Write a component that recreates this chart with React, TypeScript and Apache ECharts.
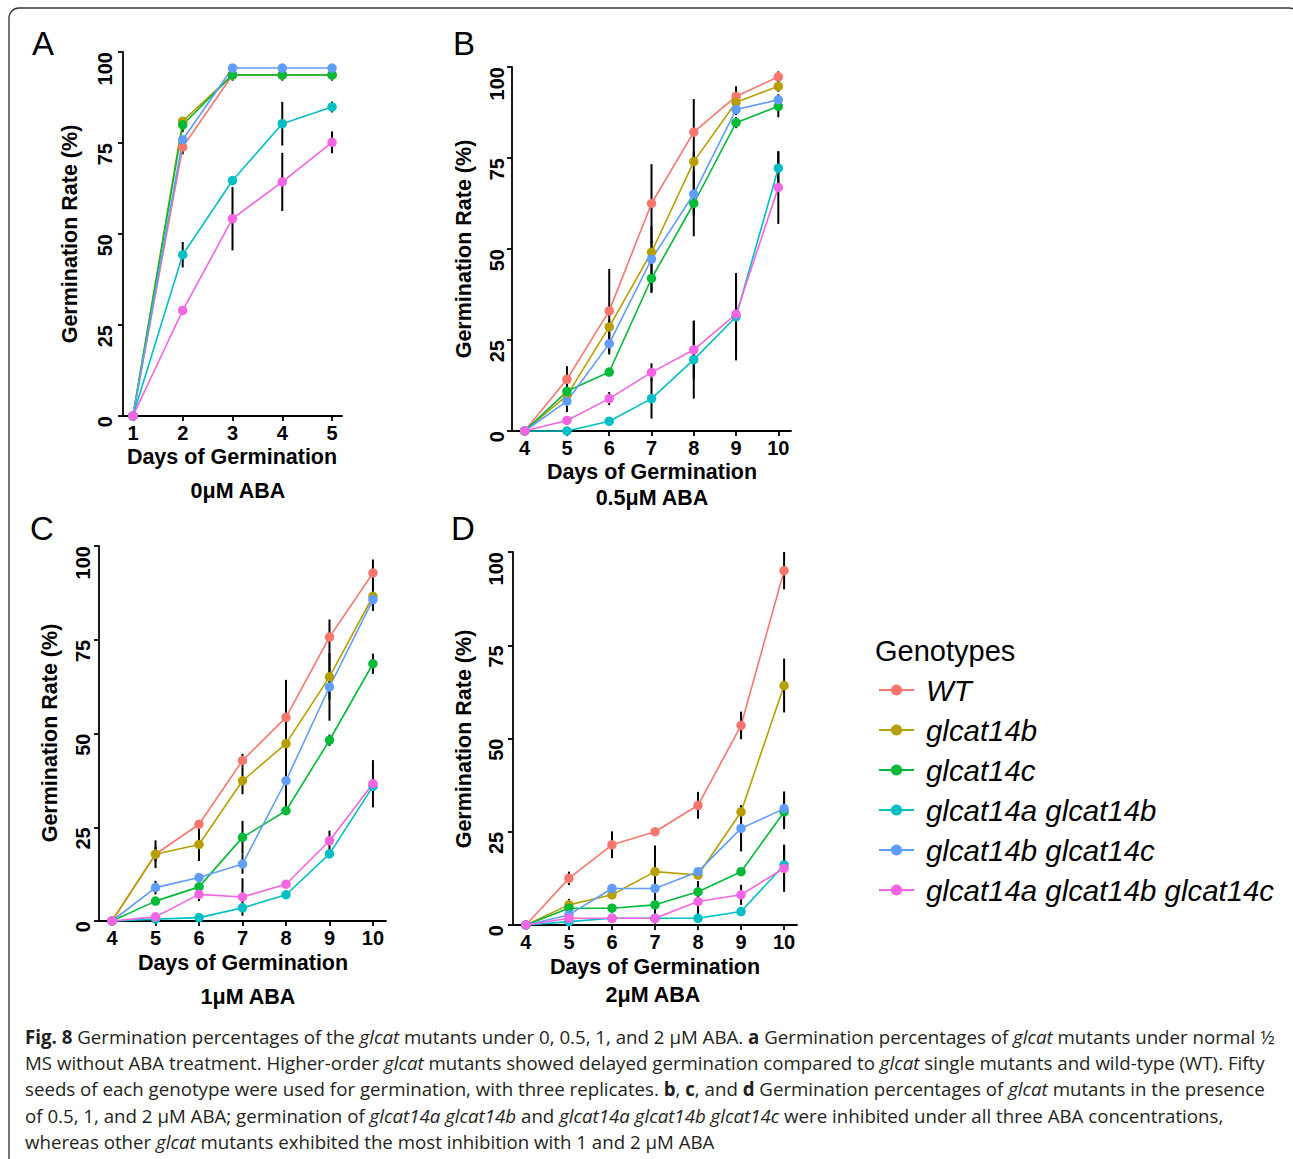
import React, { useEffect, useRef } from "react";
import * as echarts from "echarts";

// ---------- data ----------
const GENOTYPES = [
  "WT",
  "glcat14b",
  "glcat14c",
  "glcat14a glcat14b",
  "glcat14b glcat14c",
  "glcat14a glcat14b glcat14c",
];
const COLORS = ["#F8766D", "#B79F00", "#00BA38", "#00BFC4", "#619CFF", "#F564E3"];

const DAYS_A = [1, 2, 3, 4, 5];
const DAYS_ABA = [4, 5, 6, 7, 8, 9, 10];
const Y_TICKS_STEP = 25;

// Panel A: 0 µM ABA (means, then sd), one row per genotype
const meanA = [
  [0, 73.9, 93.7, 93.7, 93.7],
  [0, 81.0, 93.7, 93.7, 93.7],
  [0, 80.0, 93.7, 93.7, 93.7],
  [0, 44.3, 64.7, 80.3, 84.9],
  [0, 75.9, 95.6, 95.6, 95.6],
  [0, 29.0, 54.2, 64.3, 75.2],
];
const sdA = [
  [0, 2, 1.5, 1.5, 1.5],
  [0, 1, 0, 0, 0],
  [0, 2, 1.5, 1.5, 1.5],
  [0, 3.5, 0, 6, 1.5],
  [0, 0, 0, 0, 0],
  [0, 0, 8.7, 8, 3],
];

// Panel B: 0.5 µM ABA
const meanB = [
  [0, 14.2, 33.0, 62.5, 82.1, 91.9, 97.3],
  [0, 9.8, 28.6, 49.1, 74.0, 90.3, 94.7],
  [0, 10.9, 16.2, 41.9, 62.5, 84.7, 89.2],
  [0, 0, 2.7, 8.9, 19.6, 31.4, 72.2],
  [0, 8.2, 24.0, 47.2, 65.1, 88.3, 91.0],
  [0, 2.9, 8.9, 16.1, 22.3, 32.1, 66.9],
];
const sdB = [
  [0, 3.6, 11.5, 10.8, 9.1, 2.8, 1.5],
  [0, 2, 2, 3, 3, 1.5, 1.5],
  [0, 2, 1, 4, 9, 1.5, 3],
  [0, 0, 1, 5.5, 10.7, 12, 4.6],
  [0, 3, 3, 9, 6, 1.5, 1.5],
  [0, 1, 1.8, 2.5, 8, 11, 10],
];

// Panel C: 1 µM ABA
const meanC = [
  [0, 17.8, 25.8, 42.8, 54.3, 75.7, 92.8],
  [0, 17.8, 20.4, 37.4, 47.3, 65.1, 86.6],
  [0, 5.3, 9.1, 22.3, 29.4, 48.2, 68.6],
  [0, 0.5, 0.9, 3.5, 7.0, 17.9, 35.9],
  [0, 8.9, 11.6, 15.2, 37.4, 62.4, 85.7],
  [0, 1.1, 7.1, 6.4, 9.8, 21.4, 36.6],
];
const sdC = [
  [0, 3.7, 1, 1.8, 10, 4.7, 3.6],
  [0, 2, 4.4, 3.6, 12, 6, 3],
  [0, 1, 1, 4.4, 1, 1.5, 2.7],
  [0, 0, 0, 1, 0.5, 1, 2],
  [0, 1.8, 1, 2.6, 8, 9, 3],
  [0, 0.5, 1.8, 5, 1, 2.7, 6.3],
];

// Panel D: 2 µM ABA
const meanD = [
  [0, 12.5, 21.5, 25.0, 32.1, 53.5, 95.0],
  [0, 5.4, 8.1, 14.3, 13.4, 30.3, 64.2],
  [0, 4.5, 4.5, 5.4, 8.9, 14.3, 30.3],
  [0, 0.9, 1.8, 1.8, 1.8, 3.6, 16.1],
  [0, 2.7, 9.8, 9.8, 14.3, 25.9, 31.2],
  [0, 1.8, 1.8, 1.8, 6.3, 8.1, 15.2],
];
const sdD = [
  [0, 1.8, 3.6, 0.5, 3.6, 3.7, 5],
  [0, 1.6, 1, 7, 1, 1.8, 7.2],
  [0, 1, 1, 5, 2, 1, 4.6],
  [0, 0, 0, 0, 0, 0.5, 5.4],
  [0, 1, 1, 1, 1, 6.2, 4.6],
  [0, 1, 0.5, 0.5, 5.5, 2.7, 6.3],
];

const SUBTITLES = ["0μM ABA", "0.5μM ABA", "1μM ABA", "2μM ABA"];
const LETTERS = ["A", "B", "C", "D"];

const CAPTION = [
  "{b|Fig. 8} Germination percentages of the {i|glcat} mutants under 0, 0.5, 1, and 2 μM ABA. {b|a} Germination percentages of {i|glcat} mutants under normal ½",
  "MS without ABA treatment. Higher-order {i|glcat} mutants showed delayed germination compared to {i|glcat} single mutants and wild-type (WT). Fifty",
  "seeds of each genotype were used for germination, with three replicates. {b|b}, {b|c}, and {b|d} Germination percentages of {i|glcat} mutants in the presence",
  "of 0.5, 1, and 2 μM ABA; germination of {i|glcat14a glcat14b} and {i|glcat14a glcat14b glcat14c} were inhibited under all three ABA concentrations,",
  "whereas other {i|glcat} mutants exhibited the most inhibition with 1 and 2 μM ABA",
];

// ---------- layout ----------
const FONT = "'Liberation Sans', Arial, Helvetica, sans-serif";
const CAP_FONT = "'Open Sans', 'Noto Sans', sans-serif";

const PANELS = [
  {
    days: DAYS_A, mean: meanA, sd: sdA, xMin: 0.8, xMax: 5.2,
    grid: { left: 123, top: 52, width: 219, height: 364 }, yMargin: 8,
    letter: [43, 43], yTitle: [70, 234], xTitle: [232, 457], sub: [238, 491],
  },
  {
    days: DAYS_ABA, mean: meanB, sd: sdB, xMin: 3.7, xMax: 10.3,
    grid: { left: 512, top: 67, width: 279, height: 364 }, yMargin: 5,
    letter: [464, 43], yTitle: [464, 249], xTitle: [652, 472], sub: [652, 498],
  },
  {
    days: DAYS_ABA, mean: meanC, sd: sdC, xMin: 3.7, xMax: 10.3,
    grid: { left: 99, top: 546, width: 287, height: 375 }, yMargin: 6,
    letter: [42, 528], yTitle: [50, 733], xTitle: [243, 963], sub: [248, 997],
  },
  {
    days: DAYS_ABA, mean: meanD, sd: sdD, xMin: 3.7, xMax: 10.3,
    grid: { left: 513, top: 552, width: 284, height: 373 }, yMargin: 7,
    letter: [463, 528], yTitle: [464, 739], xTitle: [655, 967], sub: [653, 995],
  },
];

function buildOption() {
  const grid: any[] = [];
  const xAxis: any[] = [];
  const yAxis: any[] = [];
  const series: any[] = [];
  const graphic: any[] = [];

  const axisLine = { show: true, onZero: false, lineStyle: { color: "#000", width: 1.8 } };
  const axisTick = { show: true, length: 5, lineStyle: { color: "#000", width: 1.8 } };
  const labelBase = { color: "#000", fontSize: 20, fontWeight: "bold", fontFamily: FONT };

  PANELS.forEach((p, i) => {
    grid.push({ ...p.grid });
    xAxis.push({
      type: "value",
      gridIndex: i,
      min: p.xMin,
      max: p.xMax,
      axisLine,
      axisTick: { ...axisTick, customValues: p.days },
      axisLabel: { ...labelBase, margin: 7, customValues: p.days },
      splitLine: { show: false },
    });
    yAxis.push({
      type: "value",
      gridIndex: i,
      min: 0,
      max: 100,
      interval: Y_TICKS_STEP,
      axisLine,
      axisTick,
      axisLabel: { ...labelBase, rotate: 90, align: "right", margin: p.yMargin },
      splitLine: { show: false },
    });

    // error bars
    const errData: number[][] = [];
    p.mean.forEach((row, g) =>
      row.forEach((m, k) => {
        const s = p.sd[g][k];
        if (s > 0) errData.push([p.days[k], Math.max(0, m - s), Math.min(100, m + s)]);
      })
    );
    series.push({
      type: "custom",
      name: "error",
      xAxisIndex: i,
      yAxisIndex: i,
      z: 2,
      silent: true,
      data: errData,
      encode: { x: 0, y: [1, 2] },
      renderItem: (params: any, api: any) => {
        const x = api.value(0);
        const a = api.coord([x, api.value(1)]);
        const b = api.coord([x, api.value(2)]);
        return {
          type: "line",
          shape: { x1: a[0], y1: a[1], x2: b[0], y2: b[1] },
          style: { stroke: "#000", lineWidth: 2 },
        };
      },
    });

    GENOTYPES.forEach((name, g) => {
      series.push({
        type: "line",
        name,
        xAxisIndex: i,
        yAxisIndex: i,
        z: 3,
        data: p.days.map((d, k) => [d, p.mean[g][k]]),
        symbol: "circle",
        symbolSize: 9.5,
        showSymbol: true,
        clip: false,
        lineStyle: { color: COLORS[g], width: 1.6 },
        itemStyle: { color: COLORS[g] },
        emphasis: { disabled: true },
      });
    });

    const txt = (text: string, pos: number[], size: number, weight: string, rot = 0) => ({
      type: "text",
      x: pos[0],
      y: pos[1],
      rotation: rot,
      silent: true,
      style: {
        text,
        fill: "#000",
        fontSize: size,
        fontWeight: weight,
        fontFamily: FONT,
        align: "center",
        verticalAlign: "middle",
      },
    });
    graphic.push(txt(LETTERS[i], p.letter, 33, "normal"));
    graphic.push(txt("Germination Rate (%)", p.yTitle, 21.5, "bold", Math.PI / 2));
    graphic.push(txt("Days of Germination", p.xTitle, 21.5, "bold"));
    graphic.push(txt(SUBTITLES[i], p.sub, 21.5, "bold"));
  });

  // legend title
  graphic.push({
    type: "text",
    x: 875,
    y: 651,
    silent: true,
    style: {
      text: "Genotypes",
      fill: "#000",
      fontSize: 29,
      fontFamily: FONT,
      align: "left",
      verticalAlign: "middle",
    },
  });

  // outer frame
  graphic.push({
    type: "rect",
    silent: true,
    z: -10,
    shape: { x: 9, y: 8, width: 1290, height: 1180, r: 10 },
    style: { fill: "none", stroke: "#3a3a3a", lineWidth: 1.4 },
  });

  // caption
  const capSize = 18.7;
  CAPTION.forEach((line, k) => {
    graphic.push({
      type: "text",
      x: 25,
      y: 1036 + k * 26.4,
      silent: true,
      style: {
        text: line,
        fill: "#231f20",
        fontSize: capSize,
        fontFamily: CAP_FONT,
        align: "left",
        verticalAlign: "middle",
        rich: {
          b: { fontWeight: "bold", fontSize: capSize, fontFamily: CAP_FONT, fill: "#231f20" },
          i: { fontStyle: "italic", fontSize: capSize, fontFamily: CAP_FONT, fill: "#231f20" },
        },
      },
    });
  });

  return {
    animation: false,
    backgroundColor: "#fff",
    textStyle: { fontFamily: FONT },
    grid,
    xAxis,
    yAxis,
    legend: {
      data: GENOTYPES,
      orient: "vertical",
      left: 878,
      top: 670,
      padding: 0,
      itemGap: 0,
      itemWidth: 35,
      itemHeight: 14,
      selectedMode: false,
      textStyle: {
        color: "#000",
        fontSize: 29.4,
        fontStyle: "italic",
        fontFamily: FONT,
        lineHeight: 40,
        padding: [0, 0, 0, 7],
      },
    },
    series,
    graphic,
  };
}

export default function App() {
  const ref = useRef<HTMLDivElement>(null);
  useEffect(() => {
    if (!ref.current) return;
    const chart = echarts.init(ref.current, null, { renderer: "svg" });
    chart.setOption(buildOption() as any);
    return () => chart.dispose();
  }, []);
  return (
    <div
      ref={ref}
      style={{ position: "absolute", left: 0, top: 0, width: 1293, height: 1159, background: "#fff" }}
    />
  );
}
